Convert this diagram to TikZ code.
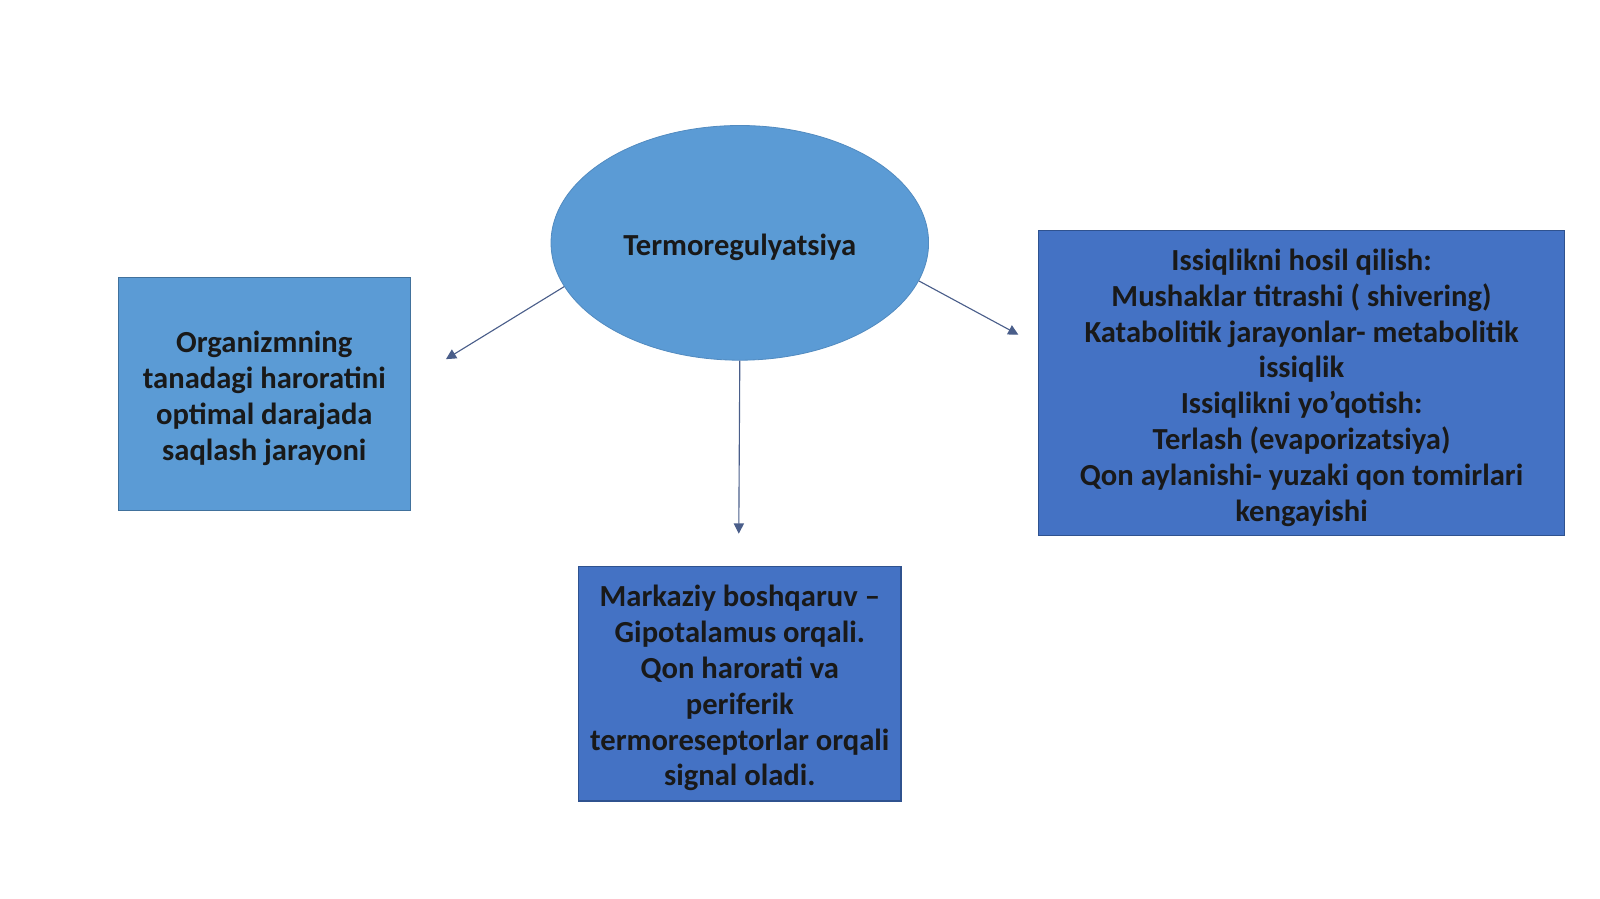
\documentclass[tikz,border=0pt]{standalone}
\usepackage{fontspec}
\setmainfont{Carlito}
\usetikzlibrary{arrows.meta,shapes.geometric}
\definecolor{lightblue}{HTML}{5B9BD5}
\definecolor{darkblue}{HTML}{4472C4}
\definecolor{edgeblue}{HTML}{41719C}
\definecolor{edgedark}{HTML}{2F528F}
\definecolor{arrowcol}{HTML}{4A5E8A}
\newcommand\lowtext[1]{\raisebox{-2.7pt}[\height][\depth]{\begin{tabular}{@{}c@{}}#1\end{tabular}}}
\tikzset{
  txt/.style={font=\fontsize{15}{17.55}\selectfont\bfseries, text=black!90},
  lbox/.style={draw=edgeblue, line width=0.6pt, fill=lightblue, txt, inner sep=0pt},
  dbox/.style={draw=edgedark, line width=0.6pt, fill=darkblue, txt, inner sep=0pt},
  conn/.style={draw=arrowcol, line width=0.55pt, -{Triangle[length=5pt,width=5pt]}}
}
\begin{document}
\begin{tikzpicture}[x=0.5pt,y=-0.5pt]
\useasboundingbox (0,0) rectangle (1568,881);
\node[ellipse, fill=lightblue, draw=lightblue!90!black, line width=0.4pt, minimum width=185pt, minimum height=115pt, inner sep=0pt, txt, text height=12.1pt, text depth=0pt] (ell) at (725,238) {Termoregulyatsiya};
\node[lbox, minimum width=143pt, minimum height=114pt] (left) at (259,386)
  {\lowtext{Organizmning\\tanadagi haroratini\\optimal darajada\\saqlash jarayoni}};
\node[dbox, minimum width=257.5pt, minimum height=149.5pt] (right) at (1275.5,375.5)
  {\lowtext{Issiqlikni hosil qilish:\\Mushaklar titrashi ( shivering)\\Katabolitik jarayonlar- metabolitik\\issiqlik\\Issiqlikni yo’qotish:\\Terlash (evaporizatsiya)\\Qon aylanishi- yuzaki qon tomirlari\\kengayishi}};
\node[dbox, minimum width=158pt, minimum height=115pt] (bottom) at (725,670)
  {\lowtext{Markaziy boshqaruv –\\Gipotalamus orqali.\\Qon harorati va\\periferik\\termoreseptorlar orqali\\signal oladi.}};
\coordinate (lend) at (437,352);
\coordinate (rend) at (998,328);
\coordinate (bend) at (724,523);
\draw[conn] (ell.194.5) -- (lend);
\draw[conn] (ell.348.9) -- (rend);
\draw[conn] (ell.south) -- (bend);
\end{tikzpicture}
\end{document}
